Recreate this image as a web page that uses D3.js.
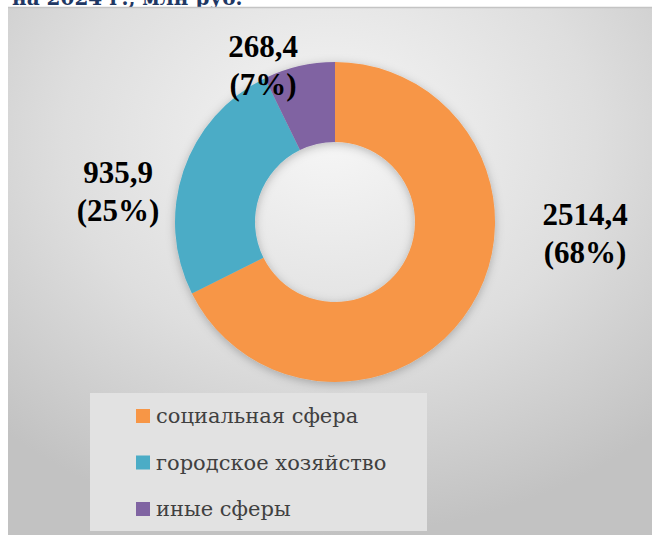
<!DOCTYPE html>
<html>
<head>
<meta charset="utf-8">
<script src="https://cdn.jsdelivr.net/npm/d3@7"></script>
<style>
  body { margin: 0; background: #fff; }
  svg { display: block; }
</style>
</head>
<body>
<script>
// data
var categories = ['социальная сфера', 'городское хозяйство', 'иные сферы'];
var values = [2514.4, 935.9, 268.4];
var percentLabels = ['68%', '25%', '7%'];
var colors = ['#F79646', '#4BACC6', '#8064A2'];

var W = 652, H = 535;
var cx = 335, cy = 222, outerR = 160, innerR = 80;
var serif = "'Liberation Serif', 'Times New Roman', serif";
var cyrSerif = "'DejaVu Serif', 'Liberation Serif', serif";

var svg = d3.select('body').append('svg')
  .attr('width', W)
  .attr('height', H);

var defs = svg.append('defs');
var bg = defs.append('radialGradient')
  .attr('id', 'bg')
  .attr('cx', '50%').attr('cy', '25%')
  .attr('r', '75%');
bg.append('stop').attr('offset', '0%').attr('stop-color', '#f6f6f6');
bg.append('stop').attr('offset', '55%').attr('stop-color', '#dedede');
bg.append('stop').attr('offset', '100%').attr('stop-color', '#c2c2c2');

var shadow = defs.append('filter')
  .attr('id', 'shadow')
  .attr('x', '-20%').attr('y', '-20%')
  .attr('width', '140%').attr('height', '140%');
shadow.append('feDropShadow')
  .attr('dx', 0).attr('dy', 2)
  .attr('stdDeviation', 5)
  .attr('flood-color', '#000')
  .attr('flood-opacity', 0.25);

// title (cut off at the top, as in the picture)
svg.append('text')
  .attr('x', 12)
  .attr('y', 5)
  .attr('font-family', cyrSerif)
  .attr('font-weight', 'bold')
  .attr('font-size', 20)
  .attr('fill', '#1F3864')
  .text('на 2024 г., млн руб.');

// chart area
svg.append('rect')
  .attr('x', 8).attr('y', 7)
  .attr('width', W - 8).attr('height', H - 7)
  .attr('fill', 'url(#bg)');
svg.append('line')
  .attr('x1', 8).attr('x2', W)
  .attr('y1', 7.5).attr('y2', 7.5)
  .attr('stroke', '#c4c4c4')
  .attr('stroke-width', 1.5);

var pie = d3.pie().sort(null).value(function(d) { return d; });
var arc = d3.arc().innerRadius(innerR).outerRadius(outerR);
var arcs = pie(values);

var g = svg.append('g')
  .attr('transform', 'translate(' + cx + ',' + cy + ')');

g.append('g').attr('filter', 'url(#shadow)')
  .selectAll('path').data(arcs)
  .enter()
  .append('path')
  .attr('d', arc)
  .attr('fill', function(d, i) { return colors[i]; });

// data labels (offsets from the centre, as in the picture)
var labelPos = [[250, 3], [-217, -39], [-72, -165]];
var fmt = function(v) { return d3.format('.1f')(v).replace('.', ','); };

var labels = g.selectAll('.lbl').data(arcs)
  .enter()
  .append('text')
  .attr('class', 'lbl')
  .attr('text-anchor', 'middle')
  .attr('font-family', serif)
  .attr('font-weight', 'bold')
  .attr('font-size', 31)
  .attr('fill', '#000')
  .attr('transform', function(d, i) { return 'translate(' + labelPos[i][0] + ',' + labelPos[i][1] + ')'; });
labels.append('tspan')
  .attr('x', 0).attr('y', 0)
  .text(function(d) { return fmt(d.value); });
labels.append('tspan')
  .attr('x', 0).attr('y', 38)
  .text(function(d, i) { return '(' + percentLabels[i] + ')'; });

// legend
var legend = svg.append('g');
legend.append('rect')
  .attr('x', 90).attr('y', 393)
  .attr('width', 337).attr('height', 138)
  .attr('fill', '#e2e2e2');

var legendY = d3.scalePoint()
  .domain(categories)
  .range([416, 509]);

var items = legend.selectAll('.item').data(categories)
  .enter()
  .append('g')
  .attr('class', 'item')
  .attr('transform', function(d) { return 'translate(136,' + legendY(d) + ')'; });
items.append('rect')
  .attr('x', 0).attr('y', -7)
  .attr('width', 14).attr('height', 14)
  .attr('fill', function(d, i) { return colors[i]; });
items.append('text')
  .attr('x', 20).attr('y', 7)
  .attr('font-family', cyrSerif)
  .attr('font-size', 21)
  .attr('fill', '#404040')
  .text(function(d) { return d; });
</script>
</body>
</html>
